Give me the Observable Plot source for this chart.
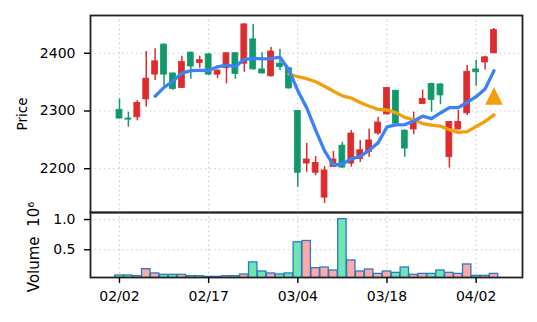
<!DOCTYPE html>
<html><head><meta charset="utf-8">
<script src="https://cdn.jsdelivr.net/npm/d3@7"></script>
<script src="https://cdn.jsdelivr.net/npm/@observablehq/plot@0.6"></script>
<style>
body{margin:0;background:#fff;}
#chart{position:relative;width:537px;height:322px;}
#chart svg{position:absolute;left:0;overflow:visible;}
</style></head><body><div id="chart"></div>
<script>
// trading-day index and date tick labels
const tickIdx = [0, 10, 20, 30, 40];
const tickLabels = ["02/02", "02/17", "03/04", "03/18", "04/02"];
const priceTicks = [2200, 2300, 2400];
const volumeTicks = [0.5, 1.0];

const opens  = [2302,2287,2289,2320,2363,2415,2365,2340,2401,2383,2398,2363,2374,2400,2382,2424,2372,2360,2382,2374,2300,2209,2193,2150,2203,2240,2209,2217,2229,2261,2294,2335,2266,2268,2312,2347,2346,2220,2268,2296,2372,2384,2400];
const highs  = [2321,2298,2318,2403,2408,2416,2366,2395,2402,2395,2399,2371,2401,2401,2451,2450,2401,2410,2407,2375,2300,2244,2221,2204,2230,2246,2266,2249,2269,2289,2341,2336,2267,2298,2336,2348,2347,2282,2301,2379,2388,2395,2443];
const lows   = [2286,2272,2283,2307,2353,2343,2336,2339,2355,2374,2362,2356,2347,2355,2367,2371,2364,2359,2370,2338,2168,2194,2188,2140,2202,2201,2203,2211,2220,2258,2293,2277,2220,2259,2311,2298,2311,2201,2267,2292,2343,2371,2399];
const closes = [2287,2285,2314,2356,2386,2363,2338,2385,2377,2388,2363,2370,2400,2364,2450,2372,2365,2403,2376,2339,2193,2216,2210,2197,2216,2202,2261,2232,2249,2280,2340,2278,2235,2281,2321,2319,2327,2281,2281,2368,2367,2393,2440];
// volume in millions (10^6)
const volumes = [0.073,0.073,0.062,0.178,0.107,0.084,0.084,0.084,0.062,0.062,0.05,0.05,0.062,0.062,0.09,0.29,0.14,0.107,0.09,0.107,0.623,0.645,0.195,0.206,0.156,1.006,0.323,0.14,0.173,0.1,0.14,0.117,0.206,0.084,0.1,0.1,0.156,0.117,0.1,0.256,0.067,0.067,0.1];
// signal marker
const signalIdx = [42];
const signalPrice = [2326];

const rows = opens.map((o, i) => ({i, open: o, high: highs[i], low: lows[i], close: closes[i], volume: volumes[i]}));
const signals = signalIdx.map((i, k) => ({i, price: signalPrice[k]}));

const UP = "#de2b2e", DOWN = "#12996b";
const VUP = "#ffa8a8", VDOWN = "#6fe5b5";
const candleColor = d => d.close >= d.open ? UP : DOWN;
const volColor = d => d.close >= d.open ? VUP : VDOWN;
const xDomain = [-3.25, 45.2];
const grid = {stroke: "#cfcfcf", strokeOpacity: 1, strokeDasharray: "1.6,3", strokeWidth: 1.2};
const style = {fontFamily: "DejaVu Sans", fontSize: "14px", background: "transparent", color: "#000", overflow: "visible"};
const frame = Plot.frame({stroke: "#222", strokeWidth: 1.8});

const triangleUp = {
  draw(ctx, size) {
    const h = Math.sqrt(size) / 2;
    ctx.moveTo(0, -h); ctx.lineTo(h, h); ctx.lineTo(-h, h); ctx.closePath();
  }
};

const price = Plot.plot({
  width: 537, height: 212,
  marginLeft: 90, marginRight: 15, marginTop: 15, marginBottom: 0,
  style,
  x: {domain: xDomain, axis: null},
  y: {domain: [2124.2, 2465.4], axis: null},
  marks: [
    Plot.gridX(tickIdx, grid),
    Plot.gridY(priceTicks, grid),
    Plot.ruleX(rows, {x: "i", y1: "low", y2: "high", stroke: candleColor, strokeWidth: 1.5}),
    Plot.rect(rows, {x1: d => d.i - 0.33, x2: d => d.i + 0.33, y1: "open", y2: "close", fill: candleColor, stroke: candleColor, strokeWidth: 0.8}),
    Plot.lineY(rows, Plot.windowY({k: 20, anchor: "end", strict: true}, {x: "i", y: "close", stroke: "#f59e0b", strokeWidth: 3.3})),
    Plot.lineY(rows, Plot.windowY({k: 5, anchor: "end", strict: true}, {x: "i", y: "close", stroke: "#3b82f6", strokeWidth: 3.3})),
    Plot.dot(signals, {x: "i", y: "price", symbol: triangleUp, r: 10, fill: "#f59e0b", stroke: "none"}),
    frame,
    Plot.axisY(priceTicks, {tickSize: 6, tickPadding: 9, strokeWidth: 1.4, tickFormat: d => String(d), label: null}),
    Plot.text(["Price"], {frameAnchor: "left", textAnchor: "middle", dx: -68, rotate: -90, fontSize: 13.5, fill: "#000"})
  ]
});

const vol = Plot.plot({
  width: 537, height: 172,
  marginLeft: 90, marginRight: 15, marginTop: 62, marginBottom: 45,
  style,
  x: {domain: xDomain, axis: null},
  y: {domain: [0.04, 1.117], axis: null},
  marks: [
    Plot.gridX(tickIdx, grid),
    Plot.gridY(volumeTicks, grid),
    Plot.rect(rows, {x1: d => d.i - 0.47, x2: d => d.i + 0.47, y1: 0, y2: "volume", fill: volColor, stroke: "#2a7bbf", strokeWidth: 1.3, clip: true}),
    frame,
    Plot.axisY(volumeTicks, {tickSize: 6, tickPadding: 9, strokeWidth: 1.4, tickFormat: d => d.toFixed(1), label: null}),
    Plot.axisX(tickIdx, {tickSize: 6, tickPadding: 8, strokeWidth: 1.4, tickFormat: (d, i) => tickLabels[i], label: null}),
    Plot.text(["Volume\u00a0\u00a010\u2076"], {frameAnchor: "left", textAnchor: "middle", dx: -56.5, dy: 2, rotate: -90, fontSize: 15, fill: "#000"})
  ]
});

price.style.top = "0px";
vol.style.top = "150px";
const el = document.getElementById("chart");
el.append(price, vol);
</script>
</body></html>
